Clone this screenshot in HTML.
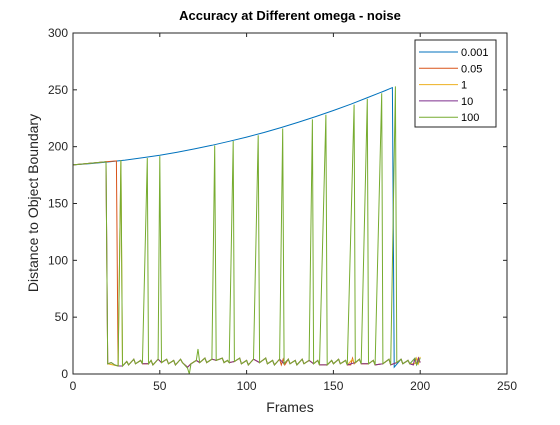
<!DOCTYPE html>
<html><head><meta charset="utf-8"><style>
body{margin:0;background:#fff;font-family:"Liberation Sans",sans-serif}
svg text{font-family:"Liberation Sans",sans-serif}
</style></head><body>
<svg id="chart" width="560" height="420" xmlns="http://www.w3.org/2000/svg">
<rect width="560" height="420" fill="#fff"/>
<text x="290" y="20" text-anchor="middle" font-size="13" font-weight="bold" fill="#000">Accuracy at Different omega - noise</text>
<text x="290" y="412" text-anchor="middle" font-size="14" fill="#262626">Frames</text>
<text transform="translate(38,203) rotate(-90)" text-anchor="middle" font-size="14" fill="#262626">Distance to Object Boundary</text>
<g id="plot"></g>
<g id="axes"></g>
<g id="legend"></g>
</svg>
<script>
const xTicks=[0,50,100,150,200,250];
const yTicks=[0,50,100,150,200,250,300];
const seriesNames=["0.001","0.05","1","10","100"];
const seriesColors=["#0072BD","#D95319","#EDB120","#7E2F8E","#77AC30"];
const blueX=[0,10,20,30,40,50,60,70,80,90,100,110,120,130,140,150,160,170,180,184,185,189,190,193,194,197,198,200];
const blueY=[184,185.1,186.5,188.2,190.2,192.5,195.1,198,201.2,204.7,208.4,212.5,216.9,221.6,226.5,231.8,237.4,243.3,249.4,252,6,13,9,12,9,14,8,14];
const greenX=[0,19,20,22,24,26,27.6,28.5,31,32,35,36,39,40,42.8,43.5,45,46,49,50,51,54,55,58,59,62,63,66,67,68,71,72,73,76,77,80,81.6,82.5,86,87,89,90,92.3,93,96,97,100,101,104,106.7,107.5,111,112,115,116,119,120.8,121.6,124,125,128,129,132,133,136,137.9,138.6,141,142,145.7,146.4,149,150,153,154,157,158,161.9,162.6,165,166,169.5,170.2,173,174,177.8,178.5,182,183,185.7,186.5,189,190,193,194,197,198,200];
const greenY=[184,186.7,9,10,8,7,188,7,11,8,13,9,12,9,190,9,12,8,13,191.7,10,13,9,12,8,13,10,5,0,9,12,22,10,14,10,13,201,12,14,10,12,10,205,11,14,9,12,8,13,210,10,14,9,12,8,13,216,9,13,9,12,8,13,9,12,224,9,12,8,228,8,12,9,13,9,12,8,237,10,13,9,242,9,12,8,247,9,13,8,253,10,13,9,12,9,14,8,14];
const redX=[0,19,25,26,28.5,31,32,35,36,39,40,43.5,45,46,49,51,54,55,58,59,62,63,66,68,71,73,76,77,80,82.5,86,87,89,90,93,96,97,100,101,104,107.5,111,112,115,116,119,120,121,122,124,125,128,129,132,133,136,138.6,141,142,146.4,149,150,153,154,157,158,160,161,162,165,166,170.2,173,174,178.5,182,183,186.5,189,190,193,194,196,197,198,199,200];
const redY=[184,186.7,187.5,7,7,11,8,13,9,12,9,9,12,8,13,10,13,9,12,8,13,10,6,9,12,10,14,10,13,12,14,10,12,10,11,14,9,12,8,13,10,14,9,12,8,13,8,13,8,13,9,12,8,13,9,12,9,12,8,8,12,9,13,9,12,8,8,14,9,13,9,9,12,8,9,13,8,10,13,9,12,9,8,14,8,14,10];
const yellowX=[0,19,20,26,27.6,28.5,31,32,35,36,39,40,43.5,45,46,49,51,54,55,58,59,62,63,66,68,71,73,76,77,80,82.5,86,87,89,90,93,96,97,100,101,104,107.5,111,112,115,116,119,121.6,124,125,128,129,132,133,136,138.6,141,142,146.4,149,150,153,154,157,158,161,162,165,166,170.2,173,174,178.5,182,183,186.5,189,190,193,194,197,198,199,200];
const yellowY=[184,186.7,9,7,188,7,11,8,13,9,12,9,9,12,8,13,10,13,9,12,8,13,10,6,9,12,10,14,10,13,12,14,10,12,10,11,14,9,12,8,13,10,14,9,12,8,13,9,13,9,12,8,13,9,12,9,12,8,8,12,9,13,9,12,8,13,9,13,9,9,12,8,9,13,8,10,13,9,12,9,9,14,9,15,10];
const purpleX=[0,19,20,22,24,26,28.5,31,32,35,36,39,40,43.5,45,46,49,51,54,55,58,59,62,63,66,68,71,73,76,77,80,82.5,86,87,89,90,93,96,97,100,101,104,107.5,111,112,115,116,119,121.6,124,125,128,129,132,133,136,138.6,141,142,146.4,149,150,153,154,157,158,162.6,165,166,170.2,173,174,178.5,182,183,186.5,189,190,193,194,196,197,198,199,200];
const purpleY=[184,186.7,9,10,8,7,7,11,8,13,9,12,9,9,12,8,13,10,13,9,12,8,13,10,6,9,12,10,14,10,13,12,14,10,12,10,11,14,9,12,8,13,10,14,9,12,8,13,9,13,9,12,8,13,9,12,9,12,8,8,12,9,13,9,12,8,10,13,9,9,12,8,9,13,8,10,13,9,12,9,8,14,8,14,10];
const L=73,R=507,T=33,B=374;
const sx=v=>L+(v-0)/(250-0)*(R-L);
const sy=v=>B-(v-0)/(300-0)*(B-T);
const NS="http://www.w3.org/2000/svg";
const plot=document.getElementById('plot'),axes=document.getElementById('axes'),legend=document.getElementById('legend');
function mk(t,a,p){const e=document.createElementNS(NS,t);for(const k in a)e.setAttribute(k,a[k]);p.appendChild(e);return e;}
const allX=[blueX,redX,yellowX,purpleX,greenX],allY=[blueY,redY,yellowY,purpleY,greenY];
for(let s=0;s<5;s++){
 const pts=allX[s].map((x,i)=>sx(x).toFixed(1)+','+sy(allY[s][i]).toFixed(1)).join(' ');
 const pl=mk('polyline',{points:pts,fill:'none',stroke:seriesColors[s],'stroke-width':1},plot);
 
 
}
const box=mk('rect',{x:L,y:T,width:R-L,height:B-T,fill:'none',stroke:'#262626','stroke-width':1},axes);


xTicks.forEach(v=>{
 mk('line',{x1:sx(v),x2:sx(v),y1:B,y2:B-4,stroke:'#262626'},axes);
 mk('line',{x1:sx(v),x2:sx(v),y1:T,y2:T+4,stroke:'#262626'},axes);
 const t=mk('text',{x:sx(v),y:B+16,'text-anchor':'middle','font-size':12,fill:'#262626'},axes);t.textContent=v;
 
 
});
yTicks.forEach(v=>{
 mk('line',{x1:L,x2:L+4,y1:sy(v),y2:sy(v),stroke:'#262626'},axes);
 mk('line',{x1:R,x2:R-4,y1:sy(v),y2:sy(v),stroke:'#262626'},axes);
 const t=mk('text',{x:L-5,y:sy(v)+4,'text-anchor':'end','font-size':12,fill:'#262626'},axes);t.textContent=v;
 
 
});
const lb=mk('rect',{x:415,y:40,width:81,height:87,fill:'#fff',stroke:'#262626'},legend);


seriesNames.forEach((n,i)=>{
 const y=52+i*16.3;
 const g=mk('g',{},legend);
 
 
 mk('line',{x1:419,x2:458,y1:y,y2:y,stroke:seriesColors[i]},g);
 const t=mk('text',{x:461,y:y+4,'font-size':11,fill:'#000'},g);t.textContent=n;
});
</script>
</body></html>
